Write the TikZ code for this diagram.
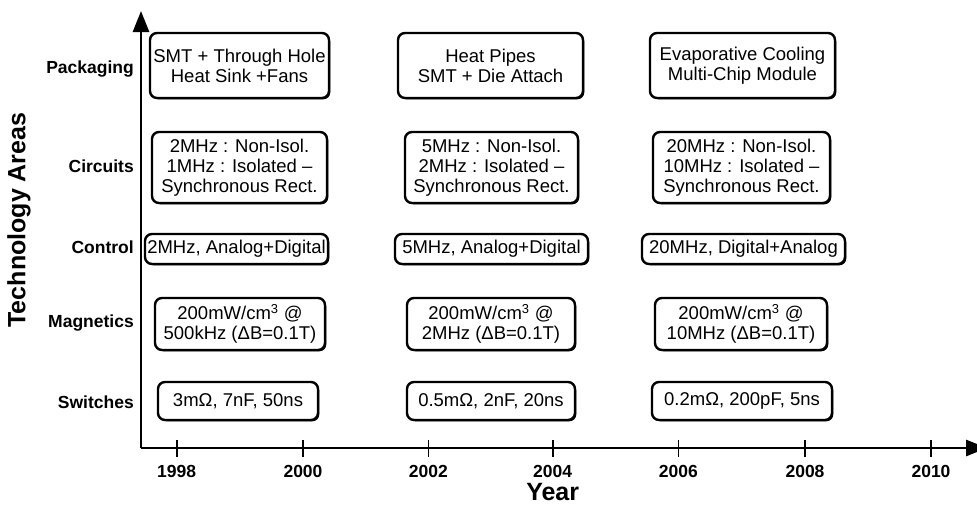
\documentclass[tikz,border=0pt]{standalone}
\usepackage{fontspec}
\setmainfont{Liberation Sans}
\usetikzlibrary{arrows.meta,shadows}

\begin{document}
\begin{tikzpicture}[x=1pt,y=-1pt,>={Triangle[width=16pt,length=21pt]},
  item/.style={draw,fill=white,line width=2.4pt,rounded corners=7pt,align=center,inner sep=0pt,
    font=\fontsize{18.5}{20}\selectfont,
    drop shadow={shadow xshift=1.3pt,shadow yshift=-1.3pt,fill=black,opacity=1}},
  area/.style={anchor=base east,inner sep=0pt,font=\fontsize{17.5}{20}\selectfont\bfseries},
  tick/.style={anchor=base,inner sep=0pt,font=\fontsize{17.5}{20}\selectfont\bfseries},
  title/.style={inner sep=0pt,font=\fontsize{25}{28}\selectfont\bfseries}]
  \useasboundingbox (0,0) rectangle (977,504);
  % axes
  \coordinate (o) at (141,448);
  \draw[line width=2.8pt,->] (o) -- (141,11);
  \draw[line width=2.8pt,->] (o) -- (987,448);
  \draw[line width=1.6pt] (176.7,440) -- (176.7,457);
  \draw[line width=1.6pt] (303.0,440) -- (303.0,457);
  \draw[line width=1.6pt] (428.3,440) -- (428.3,457);
  \draw[line width=1.6pt] (552.7,440) -- (552.7,457);
  \draw[line width=1.6pt] (678.3,440) -- (678.3,457);
  \draw[line width=1.6pt] (805.0,440) -- (805.0,457);
  \draw[line width=1.6pt] (931.0,440) -- (931.0,457);
  \node[tick] (y1998) at (176.7,477) {1998};
  \node[tick] (y2000) at (303.0,477) {2000};
  \node[tick] (y2002) at (428.3,477) {2002};
  \node[tick] (y2004) at (552.7,477) {2004};
  \node[tick] (y2006) at (678.3,477) {2006};
  \node[tick] (y2008) at (805.0,477) {2008};
  \node[tick] (y2010) at (931.0,477) {2010};
  \node[title,anchor=base] (xlabel) at (552.7,500) {Year};
  \node[title,rotate=90] (ylabel) at (19,220) {Technology Areas};
  % row names
  \node[area] (pack) at (134,73) {Packaging};
  \node[area] (circ) at (134,172) {Circuits};
  \node[area] (ctrl) at (134,253) {Control};
  \node[area] (magn) at (134,327) {Magnetics};
  \node[area] (swit) at (134,408) {Switches};
  % packaging
  \node[item,minimum width=179pt,minimum height=65pt] (pack1) at (239.5,65.5) {SMT + Through Hole\\Heat Sink +Fans};
  \node[item,minimum width=185pt,minimum height=65pt] (pack2) at (490.5,65.5) {Heat Pipes\\SMT + Die Attach};
  \node[item,minimum width=185pt,minimum height=65pt] (pack3) at (742.5,65.5) {Evaporative Cooling\\Multi-Chip Module};
  % circuits
  \node[item,minimum width=175pt,minimum height=71pt] (circ1) at (239.5,167.5) {2MHz : Non-Isol.\\1MHz : Isolated --\\Synchronous Rect.};
  \node[item,minimum width=173pt,minimum height=71pt] (circ2) at (491.5,167.5) {5MHz : Non-Isol.\\2MHz : Isolated --\\Synchronous Rect.};
  \node[item,minimum width=177pt,minimum height=71pt] (circ3) at (741.5,167.5) {20MHz : Non-Isol.\\10MHz : Isolated --\\Synchronous Rect.};
  % control
  \node[item,minimum width=183pt,minimum height=30pt] (ctrl1) at (236.5,249) {2MHz, Analog+Digital};
  \node[item,minimum width=193pt,minimum height=30pt] (ctrl2) at (491.5,249) {5MHz, Analog+Digital};
  \node[item,minimum width=203pt,minimum height=30pt] (ctrl3) at (743.5,249) {20MHz, Digital+Analog};
  % magnetics
  \node[item,minimum width=170pt,minimum height=52pt] (magn1) at (240,324) {200mW/cm\textsuperscript{3} @\\500kHz (ΔB=0.1T)};
  \node[item,minimum width=168pt,minimum height=52pt] (magn2) at (491,324) {200mW/cm\textsuperscript{3} @\\2MHz (ΔB=0.1T)};
  \node[item,minimum width=172pt,minimum height=52pt] (magn3) at (741,324) {200mW/cm\textsuperscript{3} @\\10MHz (ΔB=0.1T)};
  % switches
  \node[item,minimum width=160pt,minimum height=38pt] (swit1) at (238,401) {3mΩ, 7nF, 50ns};
  \node[item,minimum width=168pt,minimum height=38pt] (swit2) at (491,401) {0.5mΩ, 2nF, 20ns};
  \node[item,minimum width=180pt,minimum height=38pt] (swit3) at (742,401) {0.2mΩ, 200pF, 5ns};
\end{tikzpicture}
\end{document}
